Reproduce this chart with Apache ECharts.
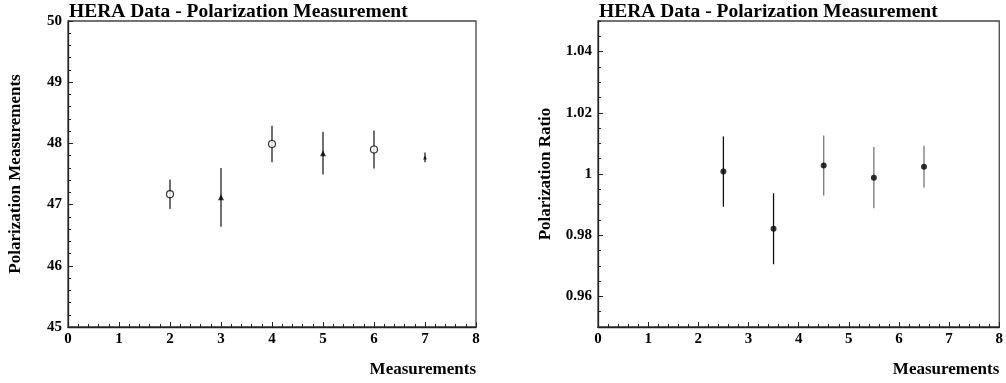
<!DOCTYPE html>
<html>
<head>
<meta charset="utf-8">
<script src="https://cdn.jsdelivr.net/npm/echarts@6/dist/echarts.min.js"></script>
<style>
  html, body { margin: 0; padding: 0; background: #fff; }
  #chart { width: 1006px; height: 383px; }
</style>
</head>
<body>
<div id="chart"></div>
<script>
// left panel: polarization measurements
const leftX = [2, 3, 4, 5, 6, 7];
const leftY = [47.17, 47.12, 47.99, 47.84, 47.90, 47.77];
const leftErr = [0.24, 0.48, 0.30, 0.35, 0.31, 0.08];
const leftSymbols = ['circle', 'triangle', 'circle', 'triangle', 'circle', 'triangle'];
const leftSizes = [7, 6, 7, 6, 7, 4];

// right panel: polarization ratio
const rightX = [2.5, 3.5, 4.5, 5.5, 6.5];
const rightY = [1.0008, 0.9821, 1.0028, 0.9988, 1.0024];
const rightErr = [0.0115, 0.0116, 0.0098, 0.0100, 0.0068];
const rightBarColors = ['#111', '#111', '#777', '#777', '#777'];
const ratioTicks = [0.96, 0.98, 1, 1.02, 1.04];

const titleText = 'HERA Data - Polarization Measurement';
const serif = '"Liberation Serif", "DejaVu Serif", serif';
const ink = '#222';

const chart = echarts.init(document.getElementById('chart'));

function errorBars(xs, ys, errs, colors, idx) {
  return {
    type: 'custom',
    xAxisIndex: idx,
    yAxisIndex: idx,
    silent: true,
    z: 1,
    data: xs.map((x, i) => [x, ys[i] - errs[i], ys[i] + errs[i], i]),
    renderItem: (params, api) => {
      const lo = api.coord([api.value(0), api.value(1)]);
      const hi = api.coord([api.value(0), api.value(2)]);
      return {
        type: 'line',
        shape: { x1: lo[0], y1: lo[1], x2: hi[0], y2: hi[1] },
        style: { stroke: colors[api.value(3)], lineWidth: 1.3 }
      };
    }
  };
}

const labelStyle = { fontFamily: serif, fontWeight: 'bold', fontSize: 15, color: '#000', margin: 6 };
const nameStyle = { fontFamily: serif, fontWeight: 'bold', fontSize: 17, color: '#000' };

function xAxisOpt(idx) {
  return {
    type: 'value',
    gridIndex: idx,
    min: 0,
    max: 8,
    interval: 1,
    name: 'Measurements',
    nameLocation: 'end',
    nameGap: 0,
    nameTextStyle: Object.assign({}, nameStyle, {
      align: 'right', verticalAlign: 'top', padding: [34, 0, 0, 0]
    }),
    axisLine: { show: true, lineStyle: { color: ink, width: 1.3 } },
    axisTick: { show: true, inside: true, length: 5, lineStyle: { color: ink } },
    minorTick: { show: true, splitNumber: 5, length: 3, lineStyle: { color: ink } },
    splitLine: { show: false },
    axisLabel: Object.assign({}, labelStyle, { margin: 5 })
  };
}

chart.setOption({
  animation: false,
  title: [
    { text: titleText, left: 64, top: -3,
      textStyle: { fontFamily: serif, fontWeight: 'bold', fontSize: 19.5, color: '#000' } },
    { text: titleText, left: 594, top: -3,
      textStyle: { fontFamily: serif, fontWeight: 'bold', fontSize: 19.5, color: '#000' } }
  ],
  grid: [
    { left: 68, top: 21, width: 408, height: 306, show: true,
      borderColor: '#444', borderWidth: 1.3, backgroundColor: 'transparent' },
    { left: 598, top: 21, width: 407, height: 306, show: true,
      borderColor: '#444', borderWidth: 1.3, backgroundColor: 'transparent' }
  ],
  xAxis: [xAxisOpt(0), xAxisOpt(1)],
  yAxis: [
    {
      type: 'value', gridIndex: 0, min: 45, max: 50, interval: 1,
      name: 'Polarization Measurements',
      nameLocation: 'middle', nameGap: 44,
      nameTextStyle: nameStyle,
      axisLine: { show: true, lineStyle: { color: ink, width: 1.3 } },
      axisTick: { show: true, inside: true, length: 5, lineStyle: { color: ink } },
      minorTick: { show: true, splitNumber: 5, length: 3, lineStyle: { color: ink } },
      splitLine: { show: false },
      axisLabel: labelStyle
    },
    {
      type: 'value', gridIndex: 1, min: 0.95, max: 1.05, interval: 0.01,
      name: 'Polarization Ratio',
      nameLocation: 'middle', nameGap: 44,
      nameTextStyle: nameStyle,
      axisLine: { show: true, lineStyle: { color: ink, width: 1.3 } },
      axisTick: { show: true, inside: true, length: 5, customValues: ratioTicks, lineStyle: { color: ink } },
      minorTick: { show: false },
      splitLine: { show: false },
      axisLabel: Object.assign({}, labelStyle, {
        customValues: ratioTicks,
        formatter: v => String(+v.toFixed(2))
      })
    },
    {
      // short ticks every 0.005 on the ratio axis
      type: 'value', gridIndex: 1, min: 0.95, max: 1.05, interval: 0.005,
      position: 'left',
      axisLine: { show: false },
      axisTick: { show: true, inside: true, length: 3, lineStyle: { color: ink } },
      axisLabel: { show: false },
      splitLine: { show: false }
    }
  ],
  series: [
    errorBars(leftX, leftY, leftErr, leftX.map(() => ink), 0),
    {
      type: 'scatter',
      xAxisIndex: 0, yAxisIndex: 0, z: 3,
      data: leftX.map((x, i) => ({
        value: [x, leftY[i]],
        symbol: leftSymbols[i],
        symbolSize: leftSizes[i],
        itemStyle: leftSymbols[i] === 'circle'
          ? { color: '#fff', borderColor: '#000', borderWidth: 1.2 }
          : { color: '#000' }
      }))
    },
    errorBars(rightX, rightY, rightErr, rightBarColors, 1),
    {
      type: 'scatter',
      xAxisIndex: 1, yAxisIndex: 1, z: 3,
      symbol: 'circle', symbolSize: 6,
      itemStyle: { color: '#000' },
      data: rightX.map((x, i) => [x, rightY[i]])
    }
  ]
});
</script>
</body>
</html>
